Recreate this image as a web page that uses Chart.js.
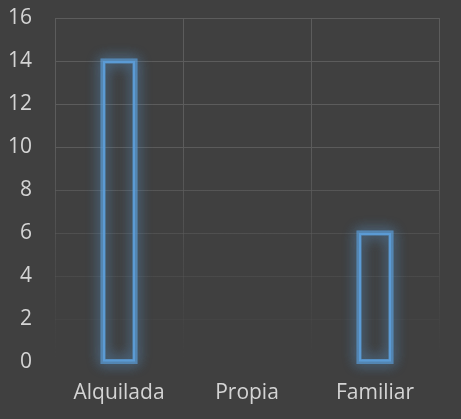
<!DOCTYPE html>
<html>
<head>
<meta charset="utf-8">
<script src="https://cdn.jsdelivr.net/npm/chart.js@4/dist/chart.umd.min.js"></script>
<style>
html,body{margin:0;padding:0;background:#404040;}
#wrap{width:461px;height:419px;position:relative;}
</style>
</head>
<body>
<div id="wrap"><canvas id="c" width="461" height="419"></canvas></div>
<script>
const categories = ["Alquilada", "Propia", "Familiar"];
const values = [14, 0, 6];
const yTicks = { min: 0, max: 16, step: 2 };

function fadeGrad(ctx) {
  const chart = ctx.chart;
  const a = chart.chartArea;
  if (!a) return 'rgba(88,88,88,1)';
  const g = chart.ctx.createLinearGradient(0, a.top, 0, a.bottom);
  g.addColorStop(0, 'rgba(92,92,92,1)');
  g.addColorStop(0.35, 'rgba(92,92,92,1)');
  g.addColorStop(0.9, 'rgba(92,92,92,0.1)');
  g.addColorStop(1, 'rgba(92,92,92,0)');
  return g;
}

const glow = {
  id: 'glow',
  afterDatasetsDraw(chart) {
    const c = chart.ctx;
    const meta = chart.getDatasetMeta(0);
    meta.data.forEach((el, i) => {
      if (!values[i]) return;
      const p = el.getProps(['x', 'y', 'base', 'width'], true);
      const left = p.x - p.width / 2, top = Math.min(p.y, p.base);
      const h = Math.abs(p.base - p.y);
      c.save();
      c.strokeStyle = 'rgba(91,155,213,0.45)';
      c.lineWidth = 5;
      c.shadowColor = 'rgba(91,155,213,1)';
      c.shadowBlur = 14;
      c.strokeRect(left, top, p.width, h);
      c.strokeRect(left, top, p.width, h);
      c.restore();
      c.save();
      c.strokeStyle = '#5B9BD5';
      c.lineWidth = 2;
      c.strokeRect(left + 1, top + 1, p.width - 2, h - 2);
      c.restore();
    });
  }
};

new Chart(document.getElementById('c'), {
  type: 'bar',
  data: {
    labels: categories,
    datasets: [{
      data: values,
      backgroundColor: 'rgba(0,0,0,0)',
      borderColor: 'rgba(0,0,0,0)',
      borderWidth: 0,
      categoryPercentage: 1,
      barPercentage: 0.25
    }]
  },
  options: {
    responsive: false,
    animation: false,
    layout: { autoPadding: false, padding: { top: 18, right: 22, left: 0, bottom: 0 } },
    plugins: { legend: { display: false }, tooltip: { enabled: false } },
    scales: {
      x: {
        afterFit(s) { s.paddingLeft = 0; s.paddingRight = 0; s.height = 57; },
        grid: { color: fadeGrad, offset: true, drawTicks: false, lineWidth: 1 },
        border: { display: false },
        ticks: { color: '#d4d4d4', font: { family: 'Open Sans', size: 21 }, padding: 18 }
      },
      y: {
        afterFit(s) { s.paddingTop = 0; s.paddingBottom = 0; s.width = 55; },
        min: yTicks.min, max: yTicks.max,
        grid: { color: fadeGrad, drawTicks: false, lineWidth: 1 },
        border: { display: false },
        ticks: { stepSize: yTicks.step, color: '#d4d4d4', font: { family: 'Open Sans', size: 21 }, padding: 23 }
      }
    }
  },
  plugins: [glow]
});
</script>
</body>
</html>
